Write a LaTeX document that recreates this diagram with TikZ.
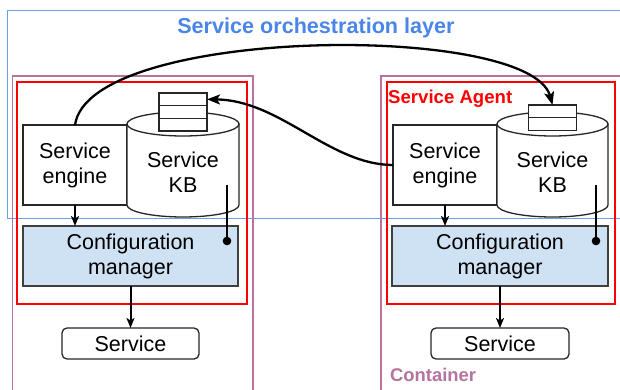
\documentclass[tikz,border=0pt]{standalone}
\usepackage{fontspec}
\setmainfont{Liberation Sans}
\usetikzlibrary{arrows.meta,positioning}
\definecolor{layerblue}{HTML}{6D9EEB}
\definecolor{titleblue}{HTML}{4A86E8}
\definecolor{containerpink}{HTML}{B5739D}
\definecolor{cfgblue}{HTML}{CFE2F3}
\begin{document}
\begin{tikzpicture}[x=1pt,y=-1pt,
  txt/.style={font=\fontsize{21.5}{25}\selectfont,align=center},
  box/.style={txt,draw=black!85,line width=1.3pt,fill=white,inner sep=0pt,outer sep=0pt},
  cfg/.style={box,fill=cfgblue,draw=black!75},
  svc/.style={box,rounded corners=5pt},
  cell/.style={draw=black!85,line width=1.3pt,fill=white,minimum width=48pt,minimum height=12.7pt,inner sep=0pt,outer sep=0pt},
  flow/.style={line width=2pt,-{Stealth[length=10pt,width=8pt,inset=2.5pt]}},
  bigflow/.style={line width=2.3pt,-{Stealth[length=13pt,width=10pt,inset=3pt]}},
  link/.style={line width=2pt}]
\useasboundingbox (0,0) rectangle (620,390);

\draw[layerblue,line width=1pt] (625,11) -| (7,218) -- (625,218);
\node[txt,font=\fontsize{21.6}{24}\selectfont\bfseries,text=titleblue] (title) at (316,28) {Service orchestration layer};

\draw[containerpink,line width=1.2pt] (12.7,395) |- (253,76) -- (253,395);
\draw[containerpink,line width=1.2pt] (381,395) |- (625,76);
\node[font=\fontsize{18.4}{20}\selectfont\bfseries,text=containerpink,anchor=west,inner sep=0pt] (container) at (390,375) {Container};

\draw[red,line width=1.2pt] (17,82) rectangle (247,304);
\draw[red,line width=1.2pt] (387,82) rectangle (615,304);
\node[font=\fontsize{18.6}{20}\selectfont\bfseries,text=red,anchor=west,inner sep=0pt] (agent) at (388,99) {Service Agent};

% left agent
\node[box,minimum width=104pt,minimum height=80pt] (engL) at (75,165) {Service\\engine};
\filldraw[draw=black!85,fill=white,line width=1.3pt] (127,124) -- (127,205) arc[start angle=180,end angle=360,x radius=56pt,y radius=12pt] -- (239,124) -- cycle;
\draw[draw=black!85,fill=white,line width=1.3pt] (183,124) ellipse [x radius=56pt,y radius=12pt];
\node[txt] (kbL) at (183,172) {Service\\KB};
\node[cell] (stL1) at (183,99.35) {};
\node[cell,below=0pt of stL1] (stL2) {};
\node[cell,below=0pt of stL2] (stL3) {};
\node[cfg,minimum width=215pt,minimum height=60pt] (cfgL) at (130.5,256) {Configuration\\manager};
\node[svc,minimum width=137pt,minimum height=31pt] (svcL) at (130.5,343.5) {Service};
\coordinate (kbLtop) at (227,185);
\coordinate (kbLdot) at (227,241);

% right agent
\node[box,minimum width=104pt,minimum height=80pt] (engR) at (445,165) {Service\\engine};
\filldraw[draw=black!85,fill=white,line width=1.3pt] (497,124) -- (497,205) arc[start angle=180,end angle=360,x radius=55.5pt,y radius=12pt] -- (608,124) -- cycle;
\draw[draw=black!85,fill=white,line width=1.3pt] (552.5,124) ellipse [x radius=55.5pt,y radius=12pt];
\node[txt] (kbR) at (552.5,172) {Service\\KB};
\node[cell] (stR1) at (552.5,111.3) {};
\node[cell,below=0pt of stR1] (stR2) {};
\node[cfg,minimum width=216pt,minimum height=60pt] (cfgR) at (500,256) {Configuration\\manager};
\node[svc,minimum width=138pt,minimum height=31pt] (svcR) at (500,343.5) {Service};
\coordinate (kbRtop) at (596,185);
\coordinate (kbRdot) at (596,241);

\draw[flow] (engL.south) -- (engL.south |- cfgL.north);
\draw[flow] (cfgL.south) -- (svcL.north);
\draw[link] (kbLtop) -- (kbLdot);
\fill (kbLdot) circle (4.3pt);

\draw[flow] (engR.south) -- (engR.south |- cfgR.north);
\draw[flow] (cfgR.south) -- (svcR.north);
\draw[link] (kbRtop) -- (kbRdot);
\fill (kbRdot) circle (4.3pt);

\draw[bigflow] (engL.north) .. controls +(14,-99) and +(-22.5,-83) .. (stR1.north);
\draw[bigflow] (engR.west) .. controls +(-63,0) and +(73,0.7) .. (stL1.east);
\end{tikzpicture}
\end{document}
